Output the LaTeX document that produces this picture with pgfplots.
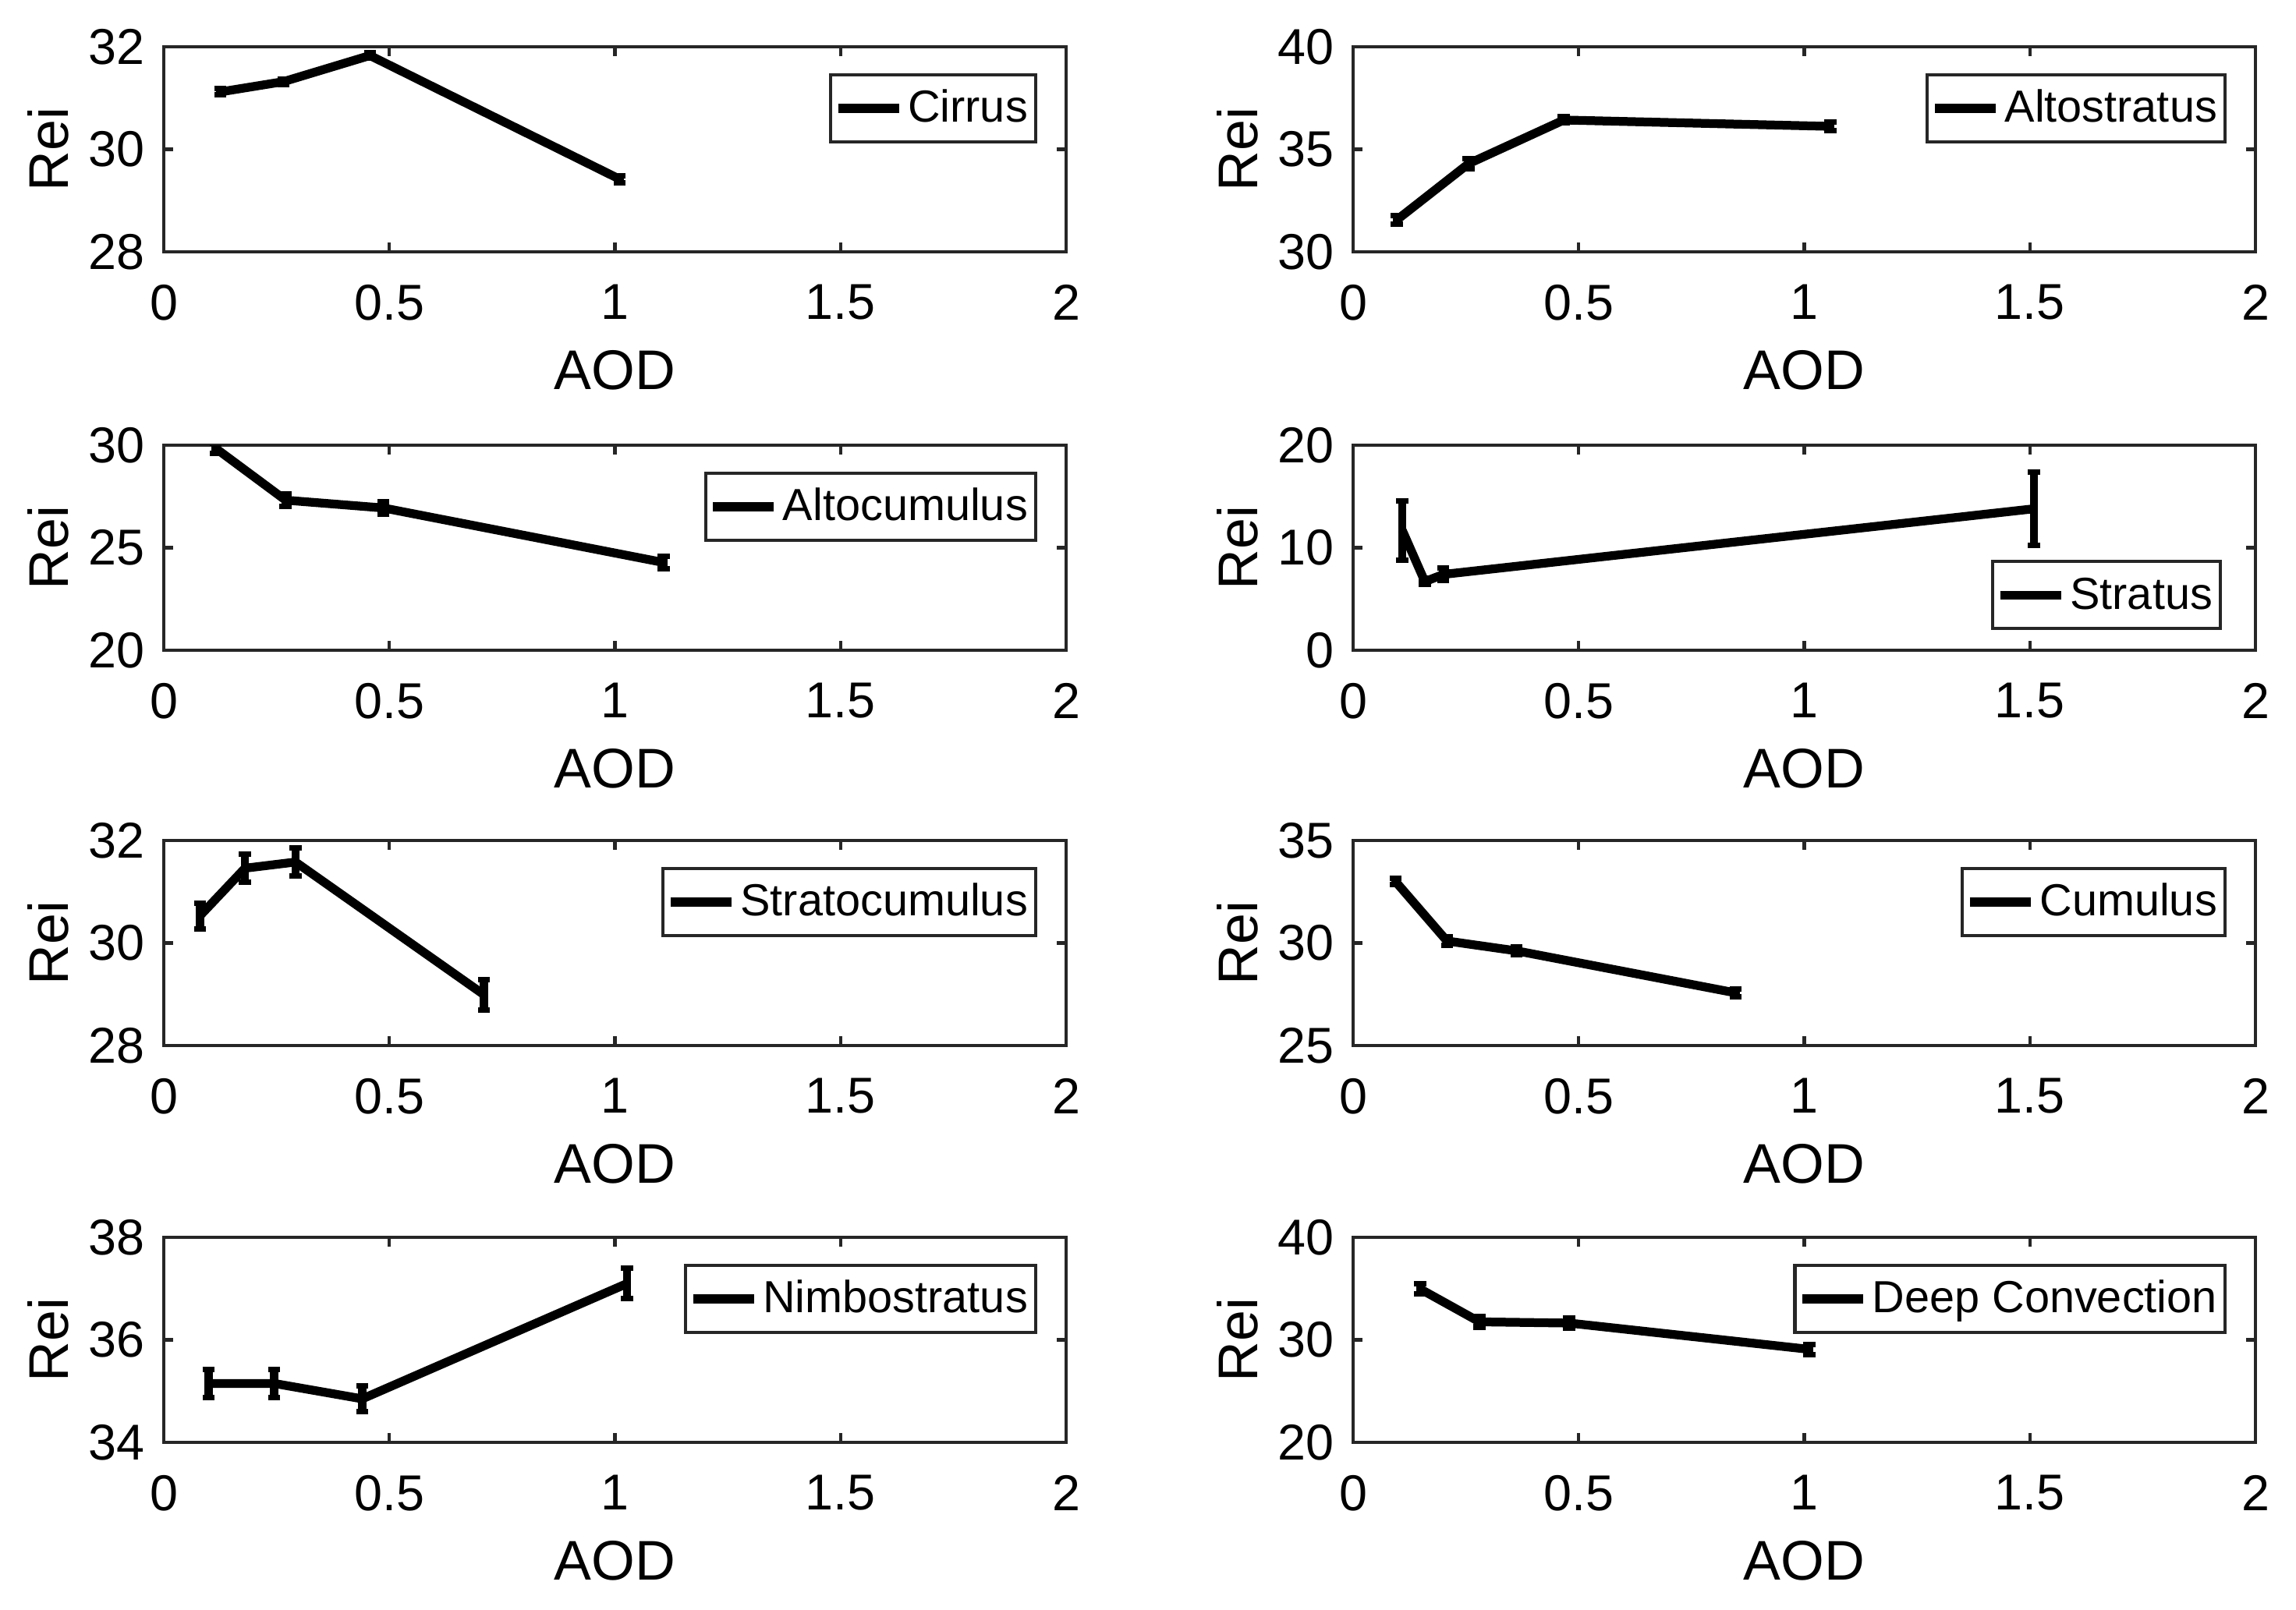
\documentclass[border=0pt]{standalone}
\usepackage{fontspec}
\setmainfont{Liberation Sans}
\usepackage{pgfplots}
\pgfplotsset{compat=1.18}
\definecolor{axc}{gray}{0.15}
\pgfplotsset{
  panel/.style={
    scale only axis, width=57.85mm, height=13.15mm,
    xmin=0, xmax=2, xtick={0,0.5,1,1.5,2},
    tick align=inside, major tick length=0.58mm,
    axis line style={axc, line width=0.6pt},
    tick style={axc, line width=0.6pt},
    ticklabel style={font=\fontsize{9.2}{10}\selectfont, text=black},
    xticklabel style={yshift=-0.85mm},
    /pgf/number format/assume math mode=true,
    xlabel=AOD, ylabel=Rei,
    label style={font=\fontsize{10.2}{11}\selectfont},
    xlabel style={at={([yshift=-7.6mm]axis description cs:0.5,0)}, anchor=center},
    ylabel style={at={([xshift=-7.4mm]axis description cs:0,0.5)}, anchor=center},
    legend image code/.code={\draw[black, line width=1.6pt] (0mm,0mm) -- (3.9mm,0mm);},
    legend style={draw=axc, line width=0.6pt, fill=white,
      font=\fontsize{8.2}{9}\selectfont, inner xsep=0.2mm, inner ysep=0.47mm,
      nodes={inner xsep=0.3mm, inner ysep=0pt, text height=0.73em, text depth=0.22em}},
    legend cell align=left,
  },
  legNE/.style={legend style={at={(1,1)}, anchor=north east, xshift=-1.85mm, yshift=-1.7mm}},
  legSE/.style={legend style={at={(1,0)}, anchor=south east, xshift=-2.15mm, yshift=1.3mm}},
  ser/.style={black, line width=1.6pt, mark=none, line join=round,
    error bars/.cd, y dir=both, y explicit,
    error bar style={line width=1.5pt},
    error mark options={rotate=90, mark size=1.1pt, line width=1pt}},
}
\begin{document}
\begin{tikzpicture}
\useasboundingbox (0,0) rectangle (147.2mm,-103.2mm);
% Row 1 left: Cirrus
\begin{axis}[panel, legNE, at={(10.5mm,-3.0mm)}, anchor=north west, ymin=28, ymax=32, ytick={28,30,32}]
\addplot[ser] coordinates {(0.125,31.12) +- (0,0.06) (0.265,31.32) +- (0,0.05) (0.457,31.83) +- (0,0.05) (1.01,29.42) +- (0,0.07)};
\addlegendentry{Cirrus}
\end{axis}
% Row 1 right: Altostratus
\begin{axis}[panel, legNE, at={(86.75mm,-3.0mm)}, anchor=north west, ymin=30, ymax=40, ytick={30,35,40}]
\addplot[ser] coordinates {(0.097,31.56) +- (0,0.2) (0.256,34.3) +- (0,0.25) (0.467,36.43) +- (0,0.15) (1.058,36.12) +- (0,0.2)};
\addlegendentry{Altostratus}
\end{axis}
% Row 2 left: Altocumulus
\begin{axis}[panel, legNE, at={(10.5mm,-28.55mm)}, anchor=north west, ymin=20, ymax=30, ytick={20,25,30}]
\addplot[ser] coordinates {(0.115,29.85) +- (0,0.25) (0.27,27.32) +- (0,0.3) (0.487,26.94) +- (0,0.3) (1.108,24.28) +- (0,0.3)};
\addlegendentry{Altocumulus}
\end{axis}
% Row 2 right: Stratus
\begin{axis}[panel, legSE, at={(86.75mm,-28.55mm)}, anchor=north west, ymin=0, ymax=20, ytick={0,10,20}]
\addplot[ser] coordinates {(0.109,11.7) +- (0,2.9) (0.159,6.7) +- (0,0.3) (0.200,7.4) +- (0,0.6) (1.509,13.8) +- (0,3.6)};
\addlegendentry{Stratus}
\end{axis}
% Row 3 left: Stratocumulus
\begin{axis}[panel, legNE, at={(10.5mm,-53.9mm)}, anchor=north west, ymin=28, ymax=32, ytick={28,30,32}]
\addplot[ser] coordinates {(0.08,30.53) +- (0,0.25) (0.18,31.46) +- (0,0.27) (0.292,31.58) +- (0,0.27) (0.71,28.99) +- (0,0.29)};
\addlegendentry{Stratocumulus}
\end{axis}
% Row 3 right: Cumulus
\begin{axis}[panel, legNE, at={(86.75mm,-53.9mm)}, anchor=north west, ymin=25, ymax=35, ytick={25,30,35}]
\addplot[ser] coordinates {(0.094,33.0) +- (0,0.15) (0.208,30.1) +- (0,0.2) (0.362,29.62) +- (0,0.2) (0.848,27.57) +- (0,0.2)};
\addlegendentry{Cumulus}
\end{axis}
% Row 4 left: Nimbostratus
\begin{axis}[panel, legNE, at={(10.5mm,-79.35mm)}, anchor=north west, ymin=34, ymax=38, ytick={34,36,38}]
\addplot[ser] coordinates {(0.099,35.15) +- (0,0.28) (0.245,35.15) +- (0,0.28) (0.44,34.85) +- (0,0.25) (1.027,37.1) +- (0,0.3)};
\addlegendentry{Nimbostratus}
\end{axis}
% Row 4 right: Deep Convection
\begin{axis}[panel, legNE, at={(86.75mm,-79.35mm)}, anchor=north west, ymin=20, ymax=40, ytick={20,30,40}]
\addplot[ser] coordinates {(0.149,34.96) +- (0,0.5) (0.28,31.76) +- (0,0.5) (0.479,31.64) +- (0,0.5) (1.011,29.08) +- (0,0.5)};
\addlegendentry{Deep Convection}
\end{axis}
\end{tikzpicture}
\end{document}
